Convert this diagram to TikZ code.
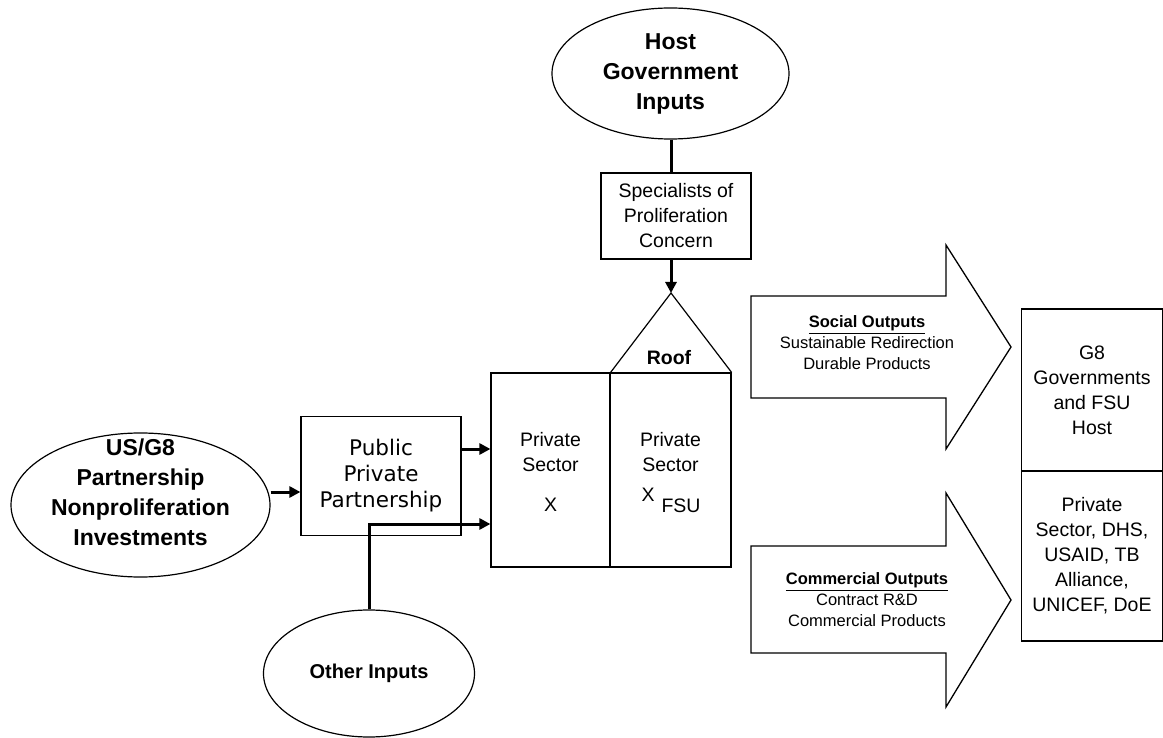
\documentclass[tikz,border=0pt]{standalone}
\usepackage{fontspec}
\setmainfont{Liberation Sans}
\newfontfamily\verdanafont{DejaVu Sans}
\usetikzlibrary{arrows.meta,positioning,shapes.geometric}

\tikzset{
  oval/.style={draw,ellipse,line width=1.2pt,inner sep=0pt,align=center,
    font=\bfseries\fontsize{23}{30}\selectfont},
  plainbox/.style={draw,rectangle,line width=1.2pt,inner sep=0pt,align=center,
    font=\fontsize{19.5}{25}\selectfont},
  plaintext/.style={inner sep=0pt,align=center,font=\fontsize{19.5}{25}\selectfont},
  flow/.style={line width=3pt,-{Triangle[length=11pt,width=11pt]}},
  blockarrow/.style={draw,line width=1.3pt,line join=miter},
  outtext/.style={inner sep=0pt,align=center,font=\fontsize{16.5}{21}\selectfont},
}

\begin{document}
\begin{tikzpicture}[x=1pt,y=-1pt]
  \useasboundingbox (0,0) rectangle (1163,738);

  % inputs
  \node[oval,minimum width=237pt,minimum height=131pt] (hostgov) at (670.5,73.5)
    {Host\\Government\\Inputs};
  \node[oval,minimum width=259pt,minimum height=144pt] (usg8) at (140.5,505) {};
  \node[inner sep=0pt,align=center,font=\bfseries\fontsize{23}{30}\selectfont] (usg8txt)
    at (140.5,492) {US/G8\\Partnership\\Nonproliferation\\Investments};
  \node[oval,minimum width=211pt,minimum height=127pt,font=\bfseries\fontsize{20}{25}\selectfont]
    (other) at (369,673.5) {Other Inputs};

  % boxes
  \node[plainbox,minimum width=150pt,minimum height=86pt] (spec) at (676,216)
    {Specialists of\\Proliferation\\Concern};
  \node[plainbox,minimum width=160pt,minimum height=119pt,
    font=\verdanafont\fontsize{21.5}{26}\selectfont] (ppp) at (381,476)
    {Public\\Private\\Partnership};

  % the house
  \node[plainbox,minimum width=119pt,minimum height=194pt] (psl) at (550.5,470) {};
  \node[plainbox,minimum width=121pt,minimum height=194pt] (psr) at (670.5,470) {};
  \coordinate (apex) at (671,293);
  \draw[line width=1.2pt,line join=miter] (psl.north east) -- (apex) -- (psr.north east);
  \node[inner sep=0pt,font=\bfseries\fontsize{19.5}{25}\selectfont] (roof) at (669,358) {Roof};
  \node[plaintext] (pslt) at (550.5,452) {Private\\Sector};
  \node[plaintext] (pslx) at (550.5,505) {X};
  \node[plaintext] (psrt) at (670.5,452) {Private\\Sector};
  \node[plaintext] (psrx) at (648,495) {X};
  \node[plaintext] (psrfsu) at (681,506) {FSU};

  % receivers
  \node[plainbox,minimum width=141pt,minimum height=162pt] (gov) at (1092,390)
    {G8\\Governments\\and FSU\\Host};
  \node[plainbox,minimum width=141pt,minimum height=170pt] (priv) at (1092,556)
    {Private\\Sector, DHS,\\USAID, TB\\Alliance,\\UNICEF, DoE};

  % outputs
  \draw[blockarrow] (751,296) -- (946,296) -- (946,245) -- (1011,347)
    -- (946,449) -- (946,398) -- (751,398) -- cycle;
  \node[outtext] (social) at (867,343)
    {\textbf{\underline{Social Outputs}}\\Sustainable Redirection\\Durable Products};
  \draw[blockarrow] (751,546) -- (946,546) -- (946,493) -- (1011,600)
    -- (946,707) -- (946,653) -- (751,653) -- cycle;
  \node[outtext] (commercial) at (867,600)
    {\textbf{\underline{Commercial Outputs}}\\Contract R\&D\\Commercial Products};

  % connectors
  \draw[line width=3pt] (hostgov.south -| apex) -- (spec.north -| apex);
  \draw[flow] (spec.south -| apex) -- (apex);
  \draw[flow] (usg8.east |- 0,492) -- (ppp.west |- 0,492);
  \draw[flow] (ppp.east |- 0,449) -- (psl.west |- 0,449);
  \draw[flow] (other.north) |- (psl.west |- 0,524);
\end{tikzpicture}
\end{document}
